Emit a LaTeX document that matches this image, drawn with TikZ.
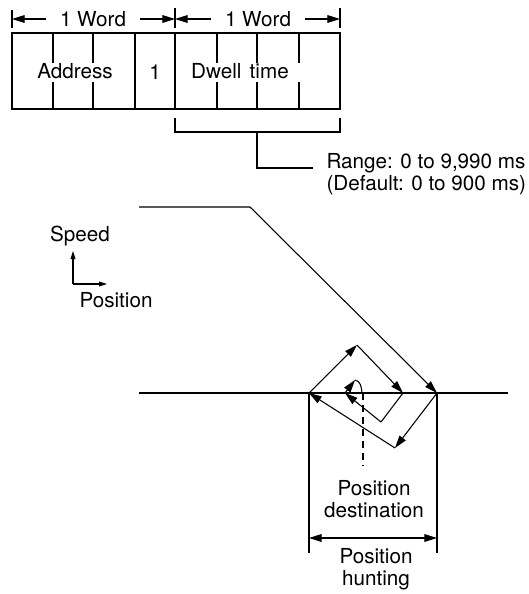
\documentclass[tikz,border=0pt]{standalone}
\usepackage{fontspec}
\setmainfont{TeX Gyre Heros}
\usetikzlibrary{arrows.meta}
\begin{document}
\begin{tikzpicture}[x=0.75pt,y=-0.75pt,line width=0.8pt,
  lbl/.style={font=\fontsize{15.5}{16.5}\selectfont,inner sep=0pt},
  wlbl/.style={lbl,inner xsep=10pt},
  tip/.style={-{Triangle[length=9.5pt,width=5.8pt]}},
  smalltip/.style={-{Triangle[length=6pt,width=3.6pt]}},
  dimtip/.style={{Triangle[length=9.5pt,width=5.8pt]}-{Triangle[length=9.5pt,width=5.8pt]}}]
\useasboundingbox (0,0) rectangle (529,594);
% --- word header ---
\coordinate (tA) at (12,19);
\coordinate (tB) at (175,19);
\coordinate (tC) at (340,19);
\draw (12,10) -- (12,28) (175,8) -- (175,28) (340,8) -- (340,28);
\node[wlbl] (w1) at (93,19) {1 Word};
\node[wlbl] (w2) at (258,19) {1 Word};
\draw[tip] (w1.west) -- (tA);
\draw[tip] (w1.east) -- (tB);
\draw[tip] (w2.west) -- (tB);
\draw[tip] (w2.east) -- (tC);
% --- box ---
\draw (12,33) rectangle (340,109);
\draw (135,33) -- (135,109) (175,33) -- (175,109);
\foreach \x in {53,93,217,257,299}{
  \draw (\x,33) -- (\x,63) (\x,82) -- (\x,109);
}
\node[lbl] (addr) at (75,71) {Address};
\node[lbl] (one) at (155,72) {1};
\node[lbl] (dwell) at (240,71) {Dwell\hspace{0.4em}time};
% --- bracket ---
\coordinate (bL) at (175,118);
\coordinate (bR) at (340,118);
\coordinate (bM) at (257,132);
\draw (bL) -- (175,132) -- (340,132) -- (bR);
\node[lbl,anchor=west,align=left] (range) at (326,174) {Range: 0 to 9,990 ms\\(Default: 0 to 900 ms)};
\draw (bM) -- (257,168) -- (313,168);
% --- axis icon ---
\coordinate (o) at (73,284);
\coordinate (oy) at (73,251);
\coordinate (ox) at (107,284);
\draw[smalltip] (o) -- (oy);
\draw[smalltip] (o) -- (ox);
\node[lbl] (speed) at (80,236) {Speed};
\node[lbl] (pos) at (116,300) {Position};
% --- speed curve ---
\coordinate (s0) at (139,207);
\coordinate (s1) at (250,207);
\coordinate (p0) at (437,393);
\draw[tip] (s0) -- (s1) -- (p0);
% --- baseline ---
\coordinate (b0) at (139,393);
\coordinate (b1) at (508,393);
\draw (b0) -- (b1);
% --- hunting spiral ---
\coordinate (p1) at (395,448);
\coordinate (p2) at (309,393);
\coordinate (p3) at (357,345);
\coordinate (p4) at (403,393);
\coordinate (p5) at (381,422);
\coordinate (p6) at (345,393);
\coordinate (p7) at (355,380);
\coordinate (p8) at (362,393);
\draw[tip] (p0) -- (p1);
\draw[tip] (p1) -- (p2);
\draw[tip] (p2) -- (p3);
\draw[tip] (p3) -- (p4);
\draw (p4) -- (p5);
\draw[tip] (p5) -- (p6);
\draw[tip] (p6) -- (p7);
\draw (p7) to[out=-10,in=95] (p8);
% --- destination ---
\coordinate (d0) at (363,393);
\coordinate (d1) at (363,466);
\draw[dashed,dash pattern=on 5pt off 4pt] (d0) -- (d1);
\node[lbl,align=center] (dest) at (374,499) {Position\\destination};
% --- hunting dimension ---
\coordinate (vL) at (309,553);
\coordinate (vR) at (437,553);
\coordinate (aL) at (309,538);
\coordinate (aR) at (437,538);
\draw (p2) -- (vL);
\draw (p0) -- (vR);
\draw[dimtip] (aL) -- (aR);
\node[lbl,align=center] (hunt) at (376,569) {Position\\hunting};
\end{tikzpicture}
\end{document}
